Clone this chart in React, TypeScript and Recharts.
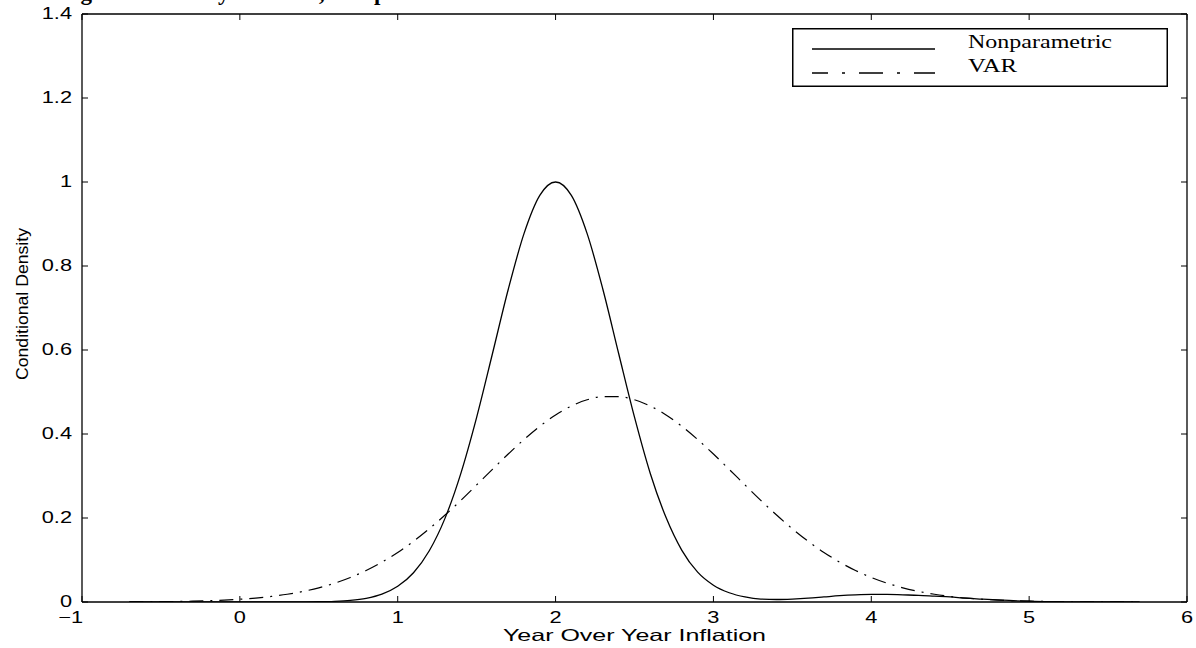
import React from "react";
import { LineChart, Line, XAxis, YAxis, Legend } from "recharts";

// sample grid of the density estimates
const xGrid = [
  -0.7, -0.6, -0.5, -0.4, -0.3, -0.2, -0.1, 0, 0.1, 0.2, 0.3, 0.4, 0.5, 0.6, 0.7, 0.8, 0.9,
  1.0, 1.1, 1.2, 1.3, 1.4, 1.5, 1.6, 1.7, 1.8, 1.9, 2.0, 2.1, 2.2, 2.3, 2.4, 2.5, 2.6, 2.7,
  2.8, 2.9, 3.0, 3.1, 3.2, 3.3, 3.4, 3.5, 3.6, 3.7, 3.8, 3.9, 4.0, 4.1, 4.2, 4.3, 4.4, 4.5,
  4.6, 4.7, 4.8, 4.9, 5.0, 5.1, 5.2, 5.3, 5.4, 5.5, 5.6, 5.7,
];

const nonparametric = [
  0, 0, 0, 0, 0, 0, 0, 0, 0.0001, 0.0001, 0.0002, 0.0003, 0.0006, 0.0016, 0.0039, 0.0088, 0.0187,
  0.0374, 0.0697, 0.122, 0.1997, 0.3063, 0.4396, 0.591, 0.744, 0.877, 0.968, 1.0, 0.968, 0.877, 0.744, 0.591, 0.44, 0.306, 0.201,
  0.123, 0.071, 0.04, 0.022, 0.012, 0.007, 0.006, 0.007, 0.009, 0.012, 0.015, 0.017, 0.018, 0.018, 0.017, 0.016, 0.014, 0.012,
  0.009, 0.007, 0.005, 0.003, 0.002, 0.001, 0.0006, 0.0003, 0.0002, 0.0001, 0, 0,
];

const varDensity = [
  0.0003, 0.0005, 0.0009, 0.0013, 0.002, 0.003, 0.0045, 0.0066, 0.0094, 0.0132, 0.0184, 0.0251, 0.0338, 0.0448, 0.0584, 0.075, 0.0948,
  0.118, 0.1446, 0.1744, 0.2071, 0.242, 0.2787, 0.3158, 0.3523, 0.3869, 0.4183, 0.4453, 0.4666, 0.4815, 0.489, 0.489, 0.4815, 0.4666, 0.4453,
  0.4183, 0.3869, 0.3523, 0.3158, 0.2787, 0.242, 0.2071, 0.1744, 0.1446, 0.118, 0.0948, 0.075, 0.0584, 0.0448, 0.0338, 0.0251, 0.0184, 0.0132,
  0.0094, 0.0066, 0.0045, 0.003, 0.002, 0.0013, 0.0009, 0.0005, 0.0003, 0.0002, 0.0001, 0.0001,
];

const xTicks = [-1, 0, 1, 2, 3, 4, 5, 6];
const yTicks = [0, 0.2, 0.4, 0.6, 0.8, 1, 1.2, 1.4];

const data = xGrid.map((x, i) => ({ x, np: nonparametric[i], var: varDensity[i] }));

const tickFont = "'Liberation Sans', Arial, sans-serif";
const serifFont = "'Liberation Serif', 'Times New Roman', serif";
const DASH_DOT = "14 7 2 7";
const STRETCH = 1.32; // the source figure's text is drawn wide

const BottomTick = ({ x, y, payload }: any) => {
  const v = payload.value;
  const neg = v < 0;
  return (
    <g>
      <line x1={x} y1={y} x2={x} y2={y - 6} stroke="#000" strokeWidth={1} />
      <text
        transform={`translate(${neg ? x + 1 : x} ${y + 21}) scale(${STRETCH} 1)`}
        textAnchor={neg ? "end" : "middle"}
        fontFamily={tickFont}
        fontSize={16.5}
        fill="#000"
      >
        {neg ? "\u2212" + Math.abs(v) : v}
      </text>
    </g>
  );
};

const TopTick = ({ x, y }: any) => (
  <line x1={x} y1={y} x2={x} y2={y + 6} stroke="#000" strokeWidth={1} />
);

const LeftTick = ({ x, y, payload }: any) => (
  <g>
    <line x1={x} y1={y} x2={x + 6} y2={y} stroke="#000" strokeWidth={1} />
    <text
      transform={`translate(${x - 10} ${y + 5}) scale(${STRETCH} 1)`}
      textAnchor="end"
      fontFamily={tickFont}
      fontSize={16.5}
      fill="#000"
    >
      {payload.value}
    </text>
  </g>
);

const RightTick = ({ x, y }: any) => (
  <line x1={x} y1={y} x2={x - 6} y2={y} stroke="#000" strokeWidth={1} />
);

const legendRows = [
  { label: "Nonparametric", dash: undefined, offset: 0, lineY: 21, textY: 20, len: 144 },
  { label: "VAR", dash: "24 14 3 14", offset: 8, lineY: 45, textY: 44, len: 49 },
];

const renderLegend = () => (
  <svg width={376} height={59} style={{ display: "block" }}>
    <rect x={0.75} y={0.75} width={374.5} height={57.5} fill="#fff" stroke="#000" strokeWidth={1.5} />
    {legendRows.map((row) => (
      <g key={row.label}>
        <line
          x1={20}
          y1={row.lineY}
          x2={143}
          y2={row.lineY}
          stroke="#000"
          strokeWidth={1.3}
          strokeDasharray={row.dash}
          strokeDashoffset={row.offset}
        />
        <text
          x={176}
          y={row.textY}
          fontFamily={serifFont}
          fontSize={18}
          textLength={row.len}
          lengthAdjust="spacingAndGlyphs"
          fill="#000"
        >
          {row.label}
        </text>
      </g>
    ))}
  </svg>
);

export default function App() {
  return (
    <div style={{ position: "absolute", left: 0, top: 0, width: 1196, height: 648, overflow: "hidden", background: "#fff" }}>
      <div
        style={{
          position: "absolute",
          left: 60,
          top: -19,
          fontFamily: serifFont,
          fontWeight: "bold",
          fontSize: 23,
          whiteSpace: "nowrap",
          lineHeight: 1,
        }}
      >
        Figure 2: Density Forecast, Sample Horizon
      </div>
      <LineChart width={1196} height={648} data={data} margin={{ top: 13, right: 8, bottom: 45, left: 0 }}>
        <XAxis
          dataKey="x"
          type="number"
          domain={[-1, 6]}
          ticks={xTicks}
          interval={0}
          height={1}
          tickSize={0}
          tickMargin={0}
          tickLine={false}
          axisLine={{ stroke: "#000", strokeWidth: 1.3 }}
          tick={<BottomTick />}
          allowDataOverflow
          label={(props: any) => {
            const vb = props.viewBox || {};
            return (
              <text
                x={(vb.x ?? 82) + (vb.width ?? 1105) / 2 - 131.5}
                y={(vb.y ?? 602) + 39}
                fontFamily={tickFont}
                fontSize={16.5}
                textLength={263}
                lengthAdjust="spacingAndGlyphs"
                fill="#000"
              >
                Year Over Year Inflation
              </text>
            );
          }}
        />
        <XAxis
          xAxisId="top"
          orientation="top"
          dataKey="x"
          type="number"
          domain={[-1, 6]}
          ticks={xTicks}
          interval={0}
          height={1}
          tickSize={0}
          tickMargin={0}
          tickLine={false}
          axisLine={{ stroke: "#000", strokeWidth: 1.3 }}
          tick={<TopTick />}
          allowDataOverflow
        />
        <YAxis
          type="number"
          domain={[0, 1.4]}
          ticks={yTicks}
          interval={0}
          width={82}
          tickSize={0}
          tickMargin={0}
          tickLine={false}
          axisLine={{ stroke: "#000", strokeWidth: 1.3 }}
          tick={<LeftTick />}
          allowDataOverflow
          label={(props: any) => {
            const vb = props.viewBox || {};
            const cx = 28;
            const cy = (vb.y ?? 14) + (vb.height ?? 588) / 2 - 4;
            return (
              <text
                transform={`translate(${cx} ${cy}) rotate(-90)`}
                x={-76}
                y={0}
                fontFamily={tickFont}
                fontSize={16.5}
                textLength={152}
                lengthAdjust="spacingAndGlyphs"
                fill="#000"
              >
                Conditional Density
              </text>
            );
          }}
        />
        <YAxis
          yAxisId="right"
          orientation="right"
          type="number"
          domain={[0, 1.4]}
          ticks={yTicks}
          interval={0}
          width={1}
          tickSize={0}
          tickMargin={0}
          tickLine={false}
          axisLine={{ stroke: "#000", strokeWidth: 1.3 }}
          tick={<RightTick />}
          allowDataOverflow
        />
        <Legend
          layout="horizontal"
          verticalAlign="middle"
          align="center"
          content={renderLegend}
          wrapperStyle={{ position: "absolute", left: 792, top: 28, width: 376, height: 59 }}
        />
        <Line
          type="monotone"
          dataKey="np"
          name="Nonparametric"
          stroke="#000"
          strokeWidth={1.3}
          dot={false}
          isAnimationActive={false}
        />
        <Line
          type="monotone"
          dataKey="var"
          name="VAR"
          stroke="#000"
          strokeWidth={1.2}
          strokeDasharray={DASH_DOT}
          dot={false}
          isAnimationActive={false}
        />
      </LineChart>
    </div>
  );
}
